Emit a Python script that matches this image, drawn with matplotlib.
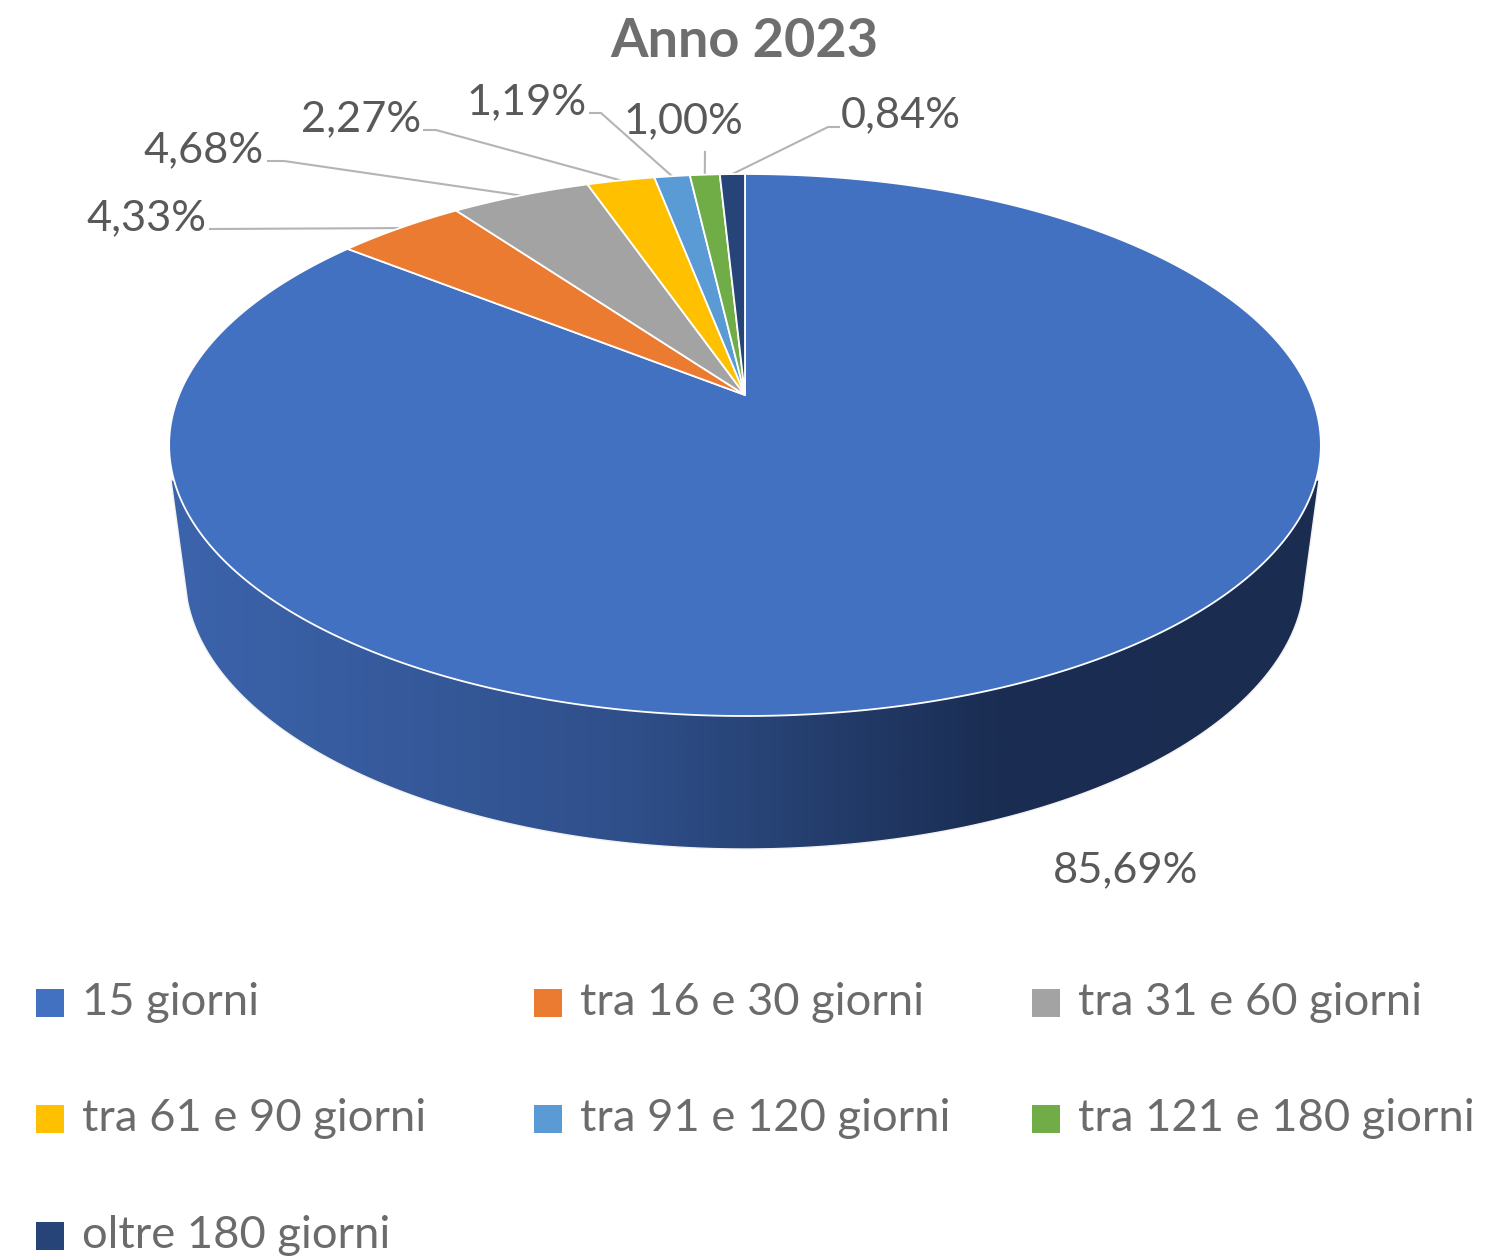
import matplotlib
matplotlib.use('Agg')
import matplotlib.pyplot as plt
from matplotlib.colors import LinearSegmentedColormap
from matplotlib.patches import Polygon, Rectangle
import numpy as np

# dati
categorie = ['15 giorni', 'tra 16 e 30 giorni', 'tra 31 e 60 giorni', 'tra 61 e 90 giorni',
             'tra 91 e 120 giorni', 'tra 121 e 180 giorni', 'oltre 180 giorni']
valori = [85.69, 4.33, 4.68, 2.27, 1.19, 1.00, 0.84]
titolo = 'Anno 2023'

colori = ['#4371C1', '#EB7B30', '#A3A3A3', '#FFC000', '#5B9BD5', '#70AD47', '#264478']

FONT = 'Lato'
GRIGIO_TESTO = '#595959'
GRIGIO_LEGENDA = '#6b6b6b'
GRIGIO_LINEA = '#b4b4b4'

# prospettiva della faccia superiore: il centro cade in y=395, non a meta' dell'ellisse
CX = 745
A_X = 566
A_Y = -188.9
B_Y = 395
C = 0.1845


def proietta(frazione, raggio=1.0):
    # frazione 0 = in alto, senso orario
    ang = 2 * np.pi * np.asarray(frazione)
    u = raggio * np.sin(ang)
    v = raggio * np.cos(ang)
    den = 1 + C * v
    return CX + A_X * u / den, (A_Y * v + B_Y) / den


fig, ax = plt.subplots(figsize=(15.1, 12.58), dpi=100)
ax.set_position([0, 0, 1, 1])

# parete laterale: gradiente orizzontale ritagliato sul bordo inferiore
t = np.linspace(0, np.pi, 200)
bordo_x = 745 + 560 * np.cos(t)
bordo_y = 575 + 274 * np.sin(t)
tieni = bordo_y >= 597
contorno = [(1319, 480)] + list(zip(bordo_x[tieni], bordo_y[tieni])) + [(171, 480)]
parete = Polygon(contorno, closed=True, facecolor='none', edgecolor='none')
ax.add_patch(parete)
cmap = LinearSegmentedColormap.from_list(
    'parete', [(0, '#3C64AC'), (0.4, '#2F4F8A'), (0.72, '#1A2D52'), (1, '#1A2C50')])
grad = ax.imshow(np.linspace(0, 1, 512).reshape(1, -1), extent=(171, 1319, 860, 470),
                 aspect='auto', cmap=cmap, interpolation='bilinear', zorder=1)
grad.set_clip_path(parete)
ax.add_patch(Polygon(contorno, closed=True, facecolor='none', edgecolor='#f2f2f2', linewidth=1, zorder=1.5))

# fette della faccia superiore
frazioni = np.cumsum([0] + valori) / sum(valori)
for i, colore in enumerate(colori):
    f = np.linspace(frazioni[i], frazioni[i + 1], max(4, int(valori[i] * 8)))
    x, y = proietta(f)
    pts = [(CX, B_Y)] + list(zip(x, y))
    ax.add_patch(Polygon(pts, closed=True, facecolor=colore, edgecolor='white',
                         linewidth=1.3, joinstyle='miter', zorder=2))

# etichette: centro testo, linea di base, gomito della linea guida
pos_etichette = [(1126, 882, None), (146, 230, (210, 229)), (204, 162, (268, 161)),
                 (361, 131, (424, 130)), (527, 114, (590, 113)), (683, 133, (705, 152)),
                 (901, 127, (839, 127))]
gomiti = [None, None, (284, 161), (436, 130), (601, 113), None, (828, 127)]

for i, (val, pos) in enumerate(zip(valori, pos_etichette)):
    tx, ty, inizio = pos
    testo = f'{val:.2f}%'.replace('.', ',')
    ax.text(tx, ty, testo, ha='center', va='baseline', fontsize=31.2, family=FONT,
            color=GRIGIO_TESTO, zorder=5)
    if inizio is None:
        continue
    # la linea finisce a meta' della fetta, sul bordo
    ex, ey = proietta((frazioni[i] + frazioni[i + 1]) / 2)
    xs = [inizio[0]]
    ys = [inizio[1]]
    if gomiti[i] is not None:
        xs.append(gomiti[i][0])
        ys.append(gomiti[i][1])
    xs.append(float(ex))
    ys.append(float(ey))
    ax.plot(xs, ys, color=GRIGIO_LINEA, linewidth=1.5, zorder=1.8)

ax.text(744, 57, titolo, ha='center', va='baseline', fontsize=39, fontweight='bold',
        family=FONT, color='#6e6e6e')

# legenda su tre colonne
col_x = [36, 534, 1032]
righe_y = [989, 1105, 1222]
for i, (nome, colore) in enumerate(zip(categorie, colori)):
    r, c = divmod(i, 3)
    ax.add_patch(Rectangle((col_x[c], righe_y[r]), 27.5, 27.5, facecolor=colore, edgecolor='none'))
    ax.text(col_x[c] + 46, righe_y[r] + 26, nome, ha='left', va='baseline', fontsize=32.7,
            family=FONT, color=GRIGIO_LEGENDA)

ax.set_xlim(0, 1510)
ax.set_ylim(1258, 0)
ax.axis('off')

fig.savefig('out.png', dpi=100, facecolor='white')
plt.close(fig)
